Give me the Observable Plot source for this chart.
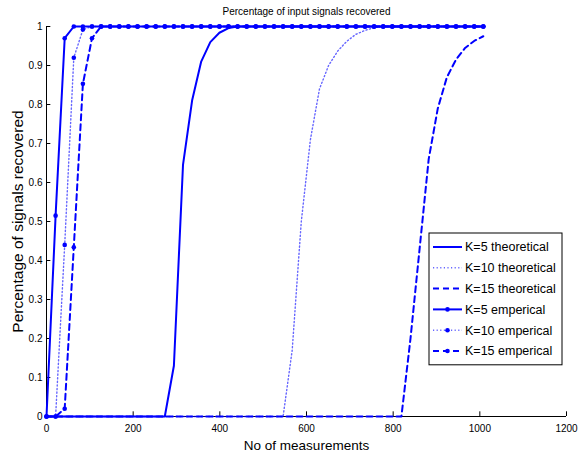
<!DOCTYPE html>
<html><head><meta charset="utf-8">
<script src="https://cdn.jsdelivr.net/npm/d3@7"></script>
<script src="https://cdn.jsdelivr.net/npm/@observablehq/plot@0.6"></script>
<style>
html,body{margin:0;padding:0;background:#fff;}
#chart{width:587px;height:453px;}
</style></head><body><div id="chart"></div>
<script>
const chartTitle = "Percentage of input signals recovered";
const xLabel = "No of measurements";
const yLabel = "Percentage of signals recovered";
const xTicks = [0, 200, 400, 600, 800, 1000, 1200];
const yTicks = [0, 0.1, 0.2, 0.3, 0.4, 0.5, 0.6, 0.7, 0.8, 0.9, 1];
const seriesNames = ["K=5 theoretical", "K=10 theoretical", "K=15 theoretical", "K=5 emperical", "K=10 emperical", "K=15 emperical"];

const measurements = [0, 21, 42, 63, 84, 105, 126, 147, 168, 189,
  210, 231, 252, 273, 294, 315, 336, 357, 378, 399,
  420, 441, 462, 483, 504, 525, 546, 567, 588, 609,
  630, 651, 672, 693, 714, 735, 756, 777, 798, 819,
  840, 861, 882, 903, 924, 945, 966, 987, 1008];

const theoK5 = [0, 0, 0, 0, 0, 0, 0, 0, 0, 0,
  0, 0, 0, 0, 0.13, 0.645, 0.81, 0.91, 0.96, 0.984,
  0.996, 1, 1, 1, 1, 1, 1, 1, 1, 1,
  1, 1, 1, 1, 1, 1, 1, 1, 1, 1,
  1, 1, 1, 1, 1, 1, 1, 1, 1];
const theoK10 = [0, 0, 0, 0, 0, 0, 0, 0, 0, 0,
  0, 0, 0, 0, 0, 0, 0, 0, 0, 0,
  0, 0, 0, 0, 0, 0, 0, 0.17, 0.5, 0.71,
  0.84, 0.9, 0.937, 0.962, 0.98, 0.99, 0.997, 1, 1, 1,
  1, 1, 1, 1, 1, 1, 1, 1, 1];
const theoK15 = [0, 0, 0, 0, 0, 0, 0, 0, 0, 0,
  0, 0, 0, 0, 0, 0, 0, 0, 0, 0,
  0, 0, 0, 0, 0, 0, 0, 0, 0, 0,
  0, 0, 0, 0, 0, 0, 0, 0, 0, 0,
  0.2, 0.43, 0.66, 0.79, 0.87, 0.915, 0.945, 0.963, 0.975];
const empK5 = [0, 0.515, 0.97, 1, 1, 1, 1, 1, 1, 1,
  1, 1, 1, 1, 1, 1, 1, 1, 1, 1,
  1, 1, 1, 1, 1, 1, 1, 1, 1, 1,
  1, 1, 1, 1, 1, 1, 1, 1, 1, 1,
  1, 1, 1, 1, 1, 1, 1, 1, 1];
const empK10 = [0, 0, 0.44, 0.92, 0.992, 1, 1, 1, 1, 1,
  1, 1, 1, 1, 1, 1, 1, 1, 1, 1,
  1, 1, 1, 1, 1, 1, 1, 1, 1, 1,
  1, 1, 1, 1, 1, 1, 1, 1, 1, 1,
  1, 1, 1, 1, 1, 1, 1, 1, 1];
const empK15 = [0, 0, 0.02, 0.434, 0.853, 0.97, 1, 1, 1, 1,
  1, 1, 1, 1, 1, 1, 1, 1, 1, 1,
  1, 1, 1, 1, 1, 1, 1, 1, 1, 1,
  1, 1, 1, 1, 1, 1, 1, 1, 1, 1,
  1, 1, 1, 1, 1, 1, 1, 1, 1];

const seriesValues = [theoK5, theoK10, theoK15, empK5, empK10, empK15];
const BLUE = "#0000ff";
const styles = [
  {stroke: BLUE, width: 2, dash: null, opacity: 1, marker: false},
  {stroke: BLUE, width: 1.4, dash: "1.2 2.4", opacity: 0.6, marker: false},
  {stroke: BLUE, width: 2, dash: "6 4", opacity: 1, marker: false},
  {stroke: BLUE, width: 2, dash: null, opacity: 1, marker: true},
  {stroke: BLUE, width: 1.4, dash: "1.2 2.4", opacity: 0.6, marker: true},
  {stroke: BLUE, width: 2, dash: "6 4", opacity: 1, marker: true}
];

const seriesData = seriesValues.map((vals, i) => vals.map((v, j) => ({x: measurements[j], y: v, s: seriesNames[i]})));

const font = "'Liberation Sans', Arial, Helvetica, sans-serif";
const marks = [
  Plot.ruleY([0], {stroke: "#000", strokeWidth: 1}),
  Plot.ruleX([0], {stroke: "#000", strokeWidth: 1}),
  Plot.ruleX(xTicks, {x: d => d, y1: 0, y2: 0.012, stroke: "#000", strokeWidth: 1}),
  Plot.ruleY(yTicks, {y: d => d, x1: 0, x2: 10, stroke: "#000", strokeWidth: 1}),
  Plot.axisX({ticks: xTicks, tickSize: 0, tickPadding: 8, tickFormat: d => String(d), label: null, fontSize: 10}),
  Plot.axisY({ticks: yTicks, tickSize: 0, tickPadding: 4, tickFormat: d => String(d), label: null, fontSize: 10})
];
seriesData.forEach((data, i) => {
  const st = styles[i];
  marks.push(Plot.line(data, {x: "x", y: "y", stroke: st.stroke, strokeWidth: st.width, strokeDasharray: st.dash, strokeOpacity: st.opacity}));
});
seriesData.forEach((data, i) => {
  const st = styles[i];
  if (st.marker) marks.push(Plot.dot(data, {x: "x", y: "y", r: 2.3, fill: BLUE, stroke: null}));
});
marks.push(
  Plot.text([chartTitle], {frameAnchor: "top", textAnchor: "middle", lineAnchor: "middle", dy: -15, fontSize: 11.5, fill: "#000", className: "chart-title"}),
  Plot.text([xLabel], {frameAnchor: "bottom", textAnchor: "middle", lineAnchor: "middle", dy: 29, fontSize: 13.5, fill: "#000"}),
  Plot.text([yLabel], {frameAnchor: "left", textAnchor: "middle", lineAnchor: "middle", rotate: -90, dx: -28, fontSize: 15.5, fill: "#000"})
);

const chart = Plot.plot({
  width: 587,
  height: 453,
  marginLeft: 46,
  marginRight: 21,
  marginTop: 26,
  marginBottom: 37,
  style: {fontFamily: font, fontSize: "10px", color: "#000", background: "#fff", overflow: "visible"},
  x: {domain: [0, 1200]},
  y: {domain: [0, 1]},
  marks
});
document.getElementById("chart").appendChild(chart);

// Narrow the title a little, as in the original rendering
d3.select(chart).selectAll(".chart-title text")
  .attr("textLength", 168).attr("lengthAdjust", "spacingAndGlyphs");

// Legend (inside plot area)
const svg = d3.select(chart);
const lg = svg.append("g").attr("font-family", font).attr("font-size", 12.5).attr("text-anchor", "start");
const lx = 429, ly = 233, lw = 133, rowH = 20.8;
lg.append("rect").attr("x", lx).attr("y", ly).attr("width", lw).attr("height", rowH * seriesNames.length + 7)
  .attr("fill", "#fff").attr("stroke", "#000").attr("stroke-width", 1);
seriesNames.forEach((name, i) => {
  const st = styles[i];
  const cy = ly + 14 + i * rowH;
  lg.append("line").attr("x1", lx + 4).attr("x2", lx + 33).attr("y1", cy).attr("y2", cy)
    .attr("stroke", st.stroke).attr("stroke-width", st.width)
    .attr("stroke-dasharray", st.dash).attr("stroke-opacity", st.opacity);
  if (st.marker) lg.append("circle").attr("cx", lx + 18.5).attr("cy", cy).attr("r", 2.3).attr("fill", BLUE);
  lg.append("text").attr("x", lx + 36).attr("y", cy).attr("dy", "0.35em").attr("text-anchor", "start").attr("fill", "#000").text(name);
});
</script>
</body></html>
